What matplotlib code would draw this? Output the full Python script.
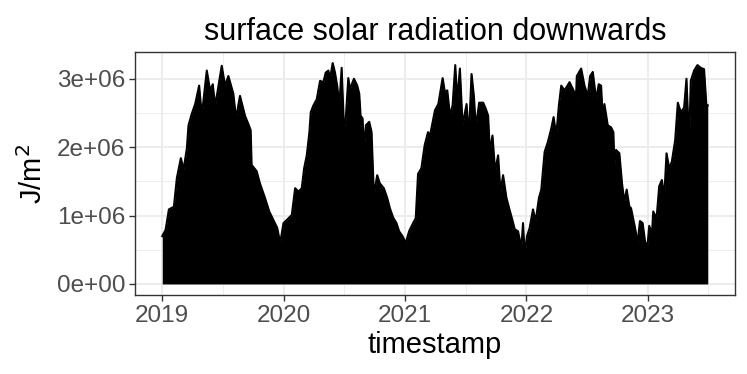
import numpy as np
import pandas as pd
import matplotlib
matplotlib.use('Agg')
import matplotlib.pyplot as plt
from matplotlib.ticker import FuncFormatter

plt.rcParams['font.family'] = ['Liberation Sans', 'DejaVu Sans']

# daily peak envelope of the hourly series
start_date = '2019-01-01'
day_offset = [
    0, 10, 20, 35, 44, 56, 64, 74, 79, 89, 99, 111, 119, 134, 144, 152, 159, 166,
    179, 189, 199, 214, 222, 234, 249, 259, 266, 269, 284, 294, 309, 322, 334, 346,
    355, 365, 380, 390, 400, 410, 420, 427, 435, 443, 447, 455, 465, 475, 485, 492,
    500, 505, 513, 520, 527, 533, 540, 547, 552, 560, 565, 577, 587, 593, 597, 603,
    607, 613, 623, 630, 637, 647, 655, 667, 677, 685, 695, 705, 713, 723, 733, 743,
    755, 763, 770, 780, 790, 800, 806, 814, 821, 831, 844, 851, 858, 866, 874, 882,
    888, 896, 904, 916, 923, 931, 938, 944, 954, 966, 974, 981, 986, 994, 1002, 1011,
    1018, 1026, 1036, 1044, 1052, 1061, 1071, 1081, 1086, 1091, 1098, 1106, 1116,
    1124, 1134, 1141, 1151, 1161, 1171, 1178, 1186, 1194, 1201, 1211, 1226, 1241,
    1244, 1248, 1261, 1271, 1281, 1288, 1296, 1306, 1314, 1321, 1326, 1331, 1341,
    1351, 1358, 1361, 1366, 1376, 1384, 1391, 1398, 1406, 1411, 1418, 1424, 1431,
    1438, 1446, 1454, 1461, 1466, 1474, 1478, 1488, 1496, 1504, 1511, 1518, 1526,
    1534, 1544, 1552, 1561, 1571, 1578, 1586, 1591, 1601, 1611, 1621, 1631, 1638, 1642,
]
peak_mj = [
    0.70, 0.79, 1.09, 1.13, 1.55, 1.84, 1.67, 1.98, 2.32, 2.49, 2.63, 2.90, 2.46, 3.12, 2.83, 2.92, 2.61, 2.80,
    3.19, 2.90, 3.04, 2.78, 2.42, 2.75, 2.46, 2.34, 2.25, 1.74, 1.65, 1.47, 1.26, 1.06, 0.94, 0.82,
    0.60, 0.89, 0.96, 1.01, 1.40, 1.35, 1.40, 1.69, 1.88, 2.22, 2.51, 2.61, 2.70, 2.97, 2.95, 3.09,
    3.12, 3.00, 3.23, 3.09, 2.88, 2.61, 3.16, 2.27, 2.39, 3.01, 2.85, 3.00, 2.90, 2.78, 2.46, 2.42,
    1.98, 2.32, 2.37, 2.22, 1.30, 1.59, 1.47, 1.40, 1.26, 1.11, 0.97, 0.89, 0.77, 0.70, 0.60, 0.77,
    0.89, 0.96, 1.61, 1.69, 2.03, 2.22, 2.17, 2.37, 2.54, 2.63, 3.01, 2.80, 2.83, 2.46, 2.61, 3.20,
    2.68, 3.15, 2.32, 2.63, 2.15, 3.07, 2.75, 2.29, 2.65, 2.65, 2.56, 2.46, 1.93, 2.17, 1.65, 1.88,
    1.35, 1.59, 1.26, 1.11, 0.97, 0.80, 0.77, 0.53, 0.89, 0.43, 0.70, 0.82, 1.09,
    0.92, 1.26, 1.38, 1.93, 2.08, 2.27, 2.44, 2.17, 2.61, 2.90, 2.83, 2.95, 2.80,
    2.56, 3.04, 3.15, 2.90, 2.75, 3.04, 3.10, 2.70, 2.92, 2.90, 2.42, 2.63, 2.32,
    2.29, 2.22, 1.74, 1.96, 1.91, 1.47, 1.20, 1.38, 1.13, 1.11, 0.94, 0.80, 0.60,
    0.92, 0.89, 0.60, 0.58, 0.85, 0.72, 1.06, 0.96, 1.43, 1.52, 1.26, 1.91, 1.69,
    1.79, 2.10, 2.65, 2.51, 2.58, 3.00, 2.05, 2.97, 3.12, 3.20, 3.16, 3.14, 2.61, 2.61,
]
year_ticks = ['2019', '2020', '2021', '2022', '2023']

timestamp = pd.Timestamp(start_date) + pd.to_timedelta(day_offset, unit='D')
ssrd = np.array(peak_mj) * 1e6

fig = plt.figure(figsize=(7.47, 3.74), dpi=100)
ax = fig.add_axes([135 / 747, 1 - 295 / 374, 600 / 747, 243 / 374])

ax.fill_between(timestamp, 0, ssrd, color='black', linewidth=0, zorder=3)
ax.plot(timestamp, ssrd, color='black', linewidth=1.5, zorder=3)

# ggplot-like 5% expansion
x0, x1 = timestamp.min(), timestamp.max()
span = x1 - x0
ax.set_xlim(x0 - 0.05 * span, x1 + 0.05 * span)
ymax = ssrd.max()
ax.set_ylim(-0.05 * ymax, 1.05 * ymax)

major = [pd.Timestamp(f'{y}-01-01') for y in year_ticks]
minor = [pd.Timestamp(f'{y}-07-02') for y in year_ticks]
ax.set_xticks(major)
ax.set_xticklabels(year_ticks)
ax.set_xticks(minor, minor=True)
ax.set_yticks([0, 1e6, 2e6, 3e6])
ax.set_yticks([0.5e6, 1.5e6, 2.5e6], minor=True)
ax.yaxis.set_major_formatter(FuncFormatter(lambda v, p: f'{v:.0e}'))

ax.grid(which='major', color='#EBEBEB', linewidth=1.3, zorder=0)
ax.grid(which='minor', color='#EBEBEB', linewidth=0.6, zorder=0)
ax.set_axisbelow(True)
for s in ax.spines.values():
    s.set_color('#333333')
    s.set_linewidth(1.0)

ax.tick_params(which='major', length=4, width=1.0, color='#333333',
               labelcolor='#4D4D4D', labelsize=17.5, pad=3)
ax.tick_params(which='minor', length=0)

ax.set_title('surface solar radiation downwards', fontsize=22, pad=9)
ax.set_xlabel('timestamp', fontsize=21, labelpad=3)
ax.set_ylabel(r'J/m$^2$', fontsize=21, labelpad=6)

fig.savefig('out.png', dpi=100)
